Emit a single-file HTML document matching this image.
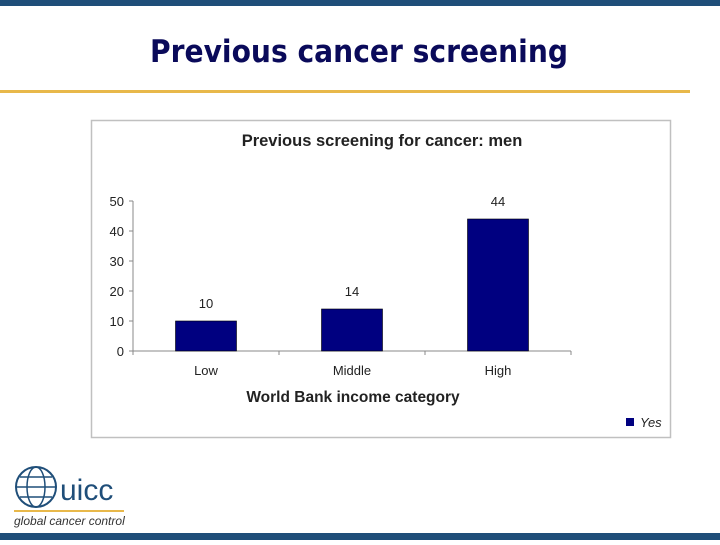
<!DOCTYPE html>
<html><head><meta charset="utf-8"><style>
body{margin:0;width:720px;height:540px;background:#fff;overflow:hidden;font-family:"Liberation Sans",sans-serif}
</style></head><body>
<svg width="720" height="540">
<rect x="0" y="0" width="720" height="6" fill="#1f4e79"/>
<rect x="0" y="533" width="720" height="7" fill="#1f4e79"/>
<text x="359" y="62" text-anchor="middle" font-family="DejaVu Sans, sans-serif" font-weight="bold" font-size="31" textLength="418" lengthAdjust="spacingAndGlyphs" fill="#0a0a5a">Previous cancer screening</text>
<rect x="0" y="90" width="690" height="3" fill="#e8b84a"/>
<rect x="91.5" y="120.5" width="579" height="317" fill="#fff" stroke="#c0c0c0" stroke-width="1.5"/>
<text x="382" y="146" text-anchor="middle" font-weight="bold" font-size="16.5" fill="#222">Previous screening for cancer: men</text>
<g id="chart"></g>
<text x="353" y="402" text-anchor="middle" font-weight="bold" font-size="15.5" fill="#222">World Bank income category</text>
<rect x="626" y="418" width="8" height="8" fill="#000080"/>
<text x="640" y="427" font-style="italic" font-size="13" fill="#222">Yes</text>
<g>
<circle cx="36" cy="487" r="20" fill="none" stroke="#1f4e79" stroke-width="2"/>
<ellipse cx="36" cy="487" rx="9" ry="20" fill="none" stroke="#1f4e79" stroke-width="1.5"/>
<line x1="16" y1="487" x2="56" y2="487" stroke="#1f4e79" stroke-width="1.5"/>
<line x1="20" y1="477" x2="52" y2="477" stroke="#1f4e79" stroke-width="1.5"/>
<line x1="20" y1="497" x2="52" y2="497" stroke="#1f4e79" stroke-width="1.5"/>
<text x="60" y="500" font-size="30" fill="#1f4e79">uicc</text>
<rect x="14" y="510" width="110" height="2" fill="#e8b84a"/>
<text x="14" y="525" font-style="italic" font-size="12" fill="#333">global cancer control</text>
</g>
</svg>
<script>
const categories=["Low","Middle","High"];
const values=[10,14,44];
const yTicks=[0,10,20,30,40,50];
const NS="http://www.w3.org/2000/svg";
const g=document.getElementById("chart");
const x0=133,step=146,y0=351,py=3,bw=61;
const xc=i=>x0+step*i+step/2;
const y=v=>y0-v*py;
function mk(t,a){const e=document.createElementNS(NS,t);for(const k in a)e.setAttribute(k,a[k]);g.appendChild(e);return e;}
let ax=mk("line",{x1:x0,y1:y(50),x2:x0,y2:y0,stroke:"#888"});


let bx=mk("line",{x1:x0,y1:y0,x2:x0+step*categories.length,y2:y0,stroke:"#888"});


yTicks.forEach(t=>{
 mk("line",{x1:x0-4,y1:y(t),x2:x0,y2:y(t),stroke:"#888"});
 const tx=mk("text",{x:x0-9,y:y(t)+5,"text-anchor":"end","font-size":13,fill:"#222"});tx.textContent=t;
 
 
});
for(let i=0;i<=categories.length;i++)mk("line",{x1:x0+step*i,y1:y0,x2:x0+step*i,y2:y0+4,stroke:"#888"});
categories.forEach((c,i)=>{
 const r=mk("rect",{x:xc(i)-bw/2,y:y(values[i]),width:bw,height:values[i]*py,fill:"#000080",stroke:"#000","stroke-width":0.6});
 
 
 const l=mk("text",{x:xc(i),y:y(values[i])-13,"text-anchor":"middle","font-size":13,fill:"#222"});l.textContent=values[i];
 
 
 const cl=mk("text",{x:xc(i),y:375,"text-anchor":"middle","font-size":13,fill:"#222"});cl.textContent=c;
 
 
});
</script>
</body></html>
